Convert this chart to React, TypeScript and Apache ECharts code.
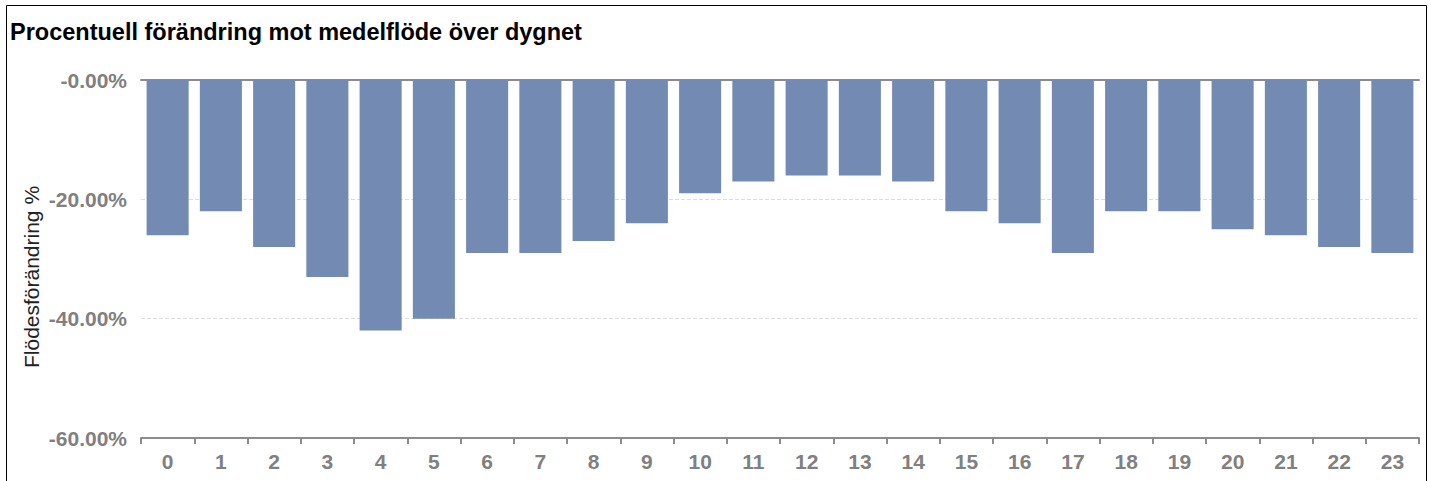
import React, { useEffect, useRef } from "react";
import * as echarts from "echarts";

const categories = ["0","1","2","3","4","5","6","7","8","9","10","11","12","13","14","15","16","17","18","19","20","21","22","23"];
const values = [-26, -22, -28, -33, -42, -40, -29, -29, -27, -24, -19, -17, -16, -16, -17, -22, -24, -29, -22, -22, -25, -26, -28, -29];
const yTickValues = [0, -20, -40, -60];
const yTickLabels = ["-0.00%", "-20.00%", "-40.00%", "-60.00%"];
const titleText = "Procentuell förändring mot medelflöde över dygnet";
const yAxisName = "Flödesförändring %";

export default function App() {
  const ref = useRef<HTMLDivElement>(null);
  useEffect(() => {
    if (!ref.current) return;
    const chart = echarts.init(ref.current, null, { renderer: "svg" });
    const labelFont = { fontFamily: "Arial, 'Liberation Sans', sans-serif", fontWeight: "bold" as const, fontSize: 21, color: "#808080" };
    chart.setOption({
      animation: false,
      backgroundColor: "#ffffff",
      title: {
        text: titleText,
        left: 5,
        top: 15,
        textStyle: { fontFamily: "Arial, 'Liberation Sans', sans-serif", fontWeight: "bold", fontSize: 23.5, color: "#000" },
      },
      graphic: [
        { type: "rect", shape: { x: 6.5, y: 5.5, width: 1420, height: 520 }, style: { fill: "none", stroke: "#000", lineWidth: 1 }, silent: true },
        {
          type: "text",
          x: 31,
          y: 277,
          rotation: Math.PI / 2,
          style: {
            text: yAxisName,
            fontFamily: "Arial, 'Liberation Sans', sans-serif",
            fontSize: 21,
            fill: "#222",
            align: "center",
            verticalAlign: "middle",
          },
          silent: true,
        },
      ],
      grid: { left: 141, right: 12, top: 80, bottom: 43 },
      xAxis: [
        {
          type: "category",
          data: categories,
          position: "bottom",
          axisLine: { onZero: false, lineStyle: { color: "#8c8c8c", width: 2 } },
          axisTick: { show: true, length: 6, alignWithLabel: false, lineStyle: { color: "#8c8c8c", width: 2 } },
          axisLabel: { ...labelFont, margin: 13 },
        },
        {
          type: "category",
          data: categories,
          position: "top",
          axisLine: { show: true, onZero: false, lineStyle: { color: "#8c8c8c", width: 2 } },
          axisTick: { show: false },
          axisLabel: { show: false },
        },
      ],
      yAxis: {
        type: "value",
        min: -60,
        max: 0,
        interval: 20,
        axisLine: { show: false },
        axisTick: { show: false },
        splitLine: { show: true, lineStyle: { type: "dashed", color: "#dddddd", width: 1 } },
        axisLabel: {
          ...labelFont,
          margin: 14,
          formatter: (v: number) => {
            const i = yTickValues.indexOf(v);
            return i >= 0 ? yTickLabels[i] : "";
          },
        },
      },
      series: [
        {
          type: "bar",
          data: values,
          barCategoryGap: "21%",
          itemStyle: { color: "#738bb3" },
        },
      ],
    });
    return () => chart.dispose();
  }, []);
  return <div ref={ref} style={{ position: "fixed", left: 0, top: 0, width: 1431, height: 481 }} />;
}
